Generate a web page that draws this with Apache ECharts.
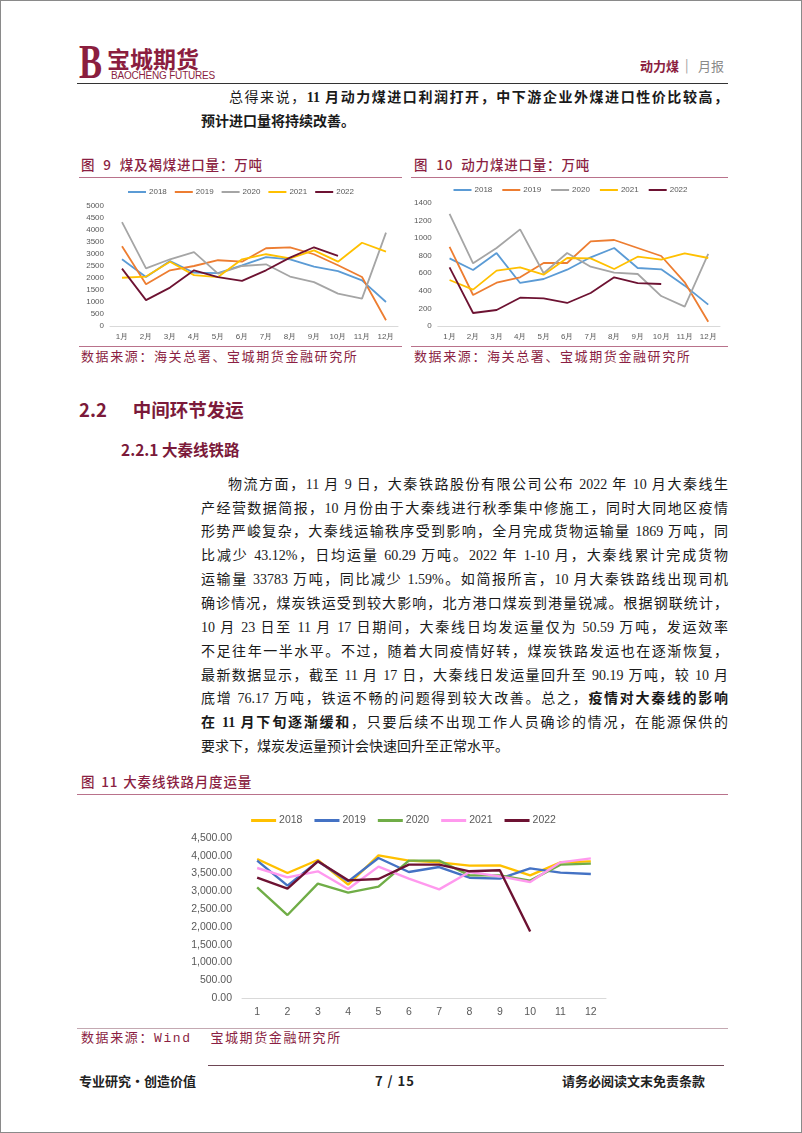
<!DOCTYPE html>
<html><head><meta charset="utf-8">
<script src="https://cdn.jsdelivr.net/npm/echarts@6/dist/echarts.min.js"></script>
<style>
html,body{margin:0;padding:0;background:#fff;}
#page{position:relative;width:802px;height:1133px;box-sizing:border-box;border:1px solid #8a8a8a;overflow:hidden;font-family:"Noto Sans CJK SC",sans-serif;background:#fff;}
.abs{position:absolute;white-space:nowrap;}
.bt{font-family:"Liberation Serif","Noto Sans CJK SC",serif;font-size:14px;color:#1a1a1a;}
.jl{position:absolute;left:200px;width:527px;height:24px;line-height:24px;text-align:justify;text-align-last:justify;}
.nl{position:absolute;left:200px;height:24px;line-height:24px;white-space:nowrap;}
.cap{font-size:13.5px;color:#8b1f43;font-weight:500;letter-spacing:0.8px;}
.sp{display:inline-block;width:8px;}
.src{font-size:13px;color:#8b1f43;letter-spacing:1.6px;font-family:"Liberation Mono","Noto Sans CJK SC",monospace;}
.hr{position:absolute;height:0;}
b{font-weight:700;}
.chart{position:absolute;}
</style>
</head><body>
<div id="page">
  <!-- header logo -->
  <div class="abs" style="left:78px;top:36px;font-family:'Liberation Serif',serif;font-size:48px;line-height:50px;color:#8b1e3f;font-weight:700;transform:scaleX(0.72);transform-origin:left top;">B</div>
  <div class="abs" style="left:106px;top:43px;font-size:23px;line-height:28px;color:#8b1e3f;font-weight:700;">宝城期货</div>
  <div class="abs" style="left:110px;top:69px;font-family:'Liberation Sans Narrow','Liberation Sans',sans-serif;font-size:10px;line-height:11px;color:#8b1e3f;letter-spacing:-0.2px;">BAOCHENG FUTURES</div>
  <div class="abs" style="left:639px;top:56px;font-size:13px;line-height:18px;color:#8b1e3f;font-weight:700;">动力煤</div>
  <div class="abs" style="left:684px;top:55px;font-size:13px;line-height:18px;color:#9a9a9a;">|</div>
  <div class="abs" style="left:697px;top:56px;font-size:13px;line-height:18px;color:#8a8a8a;">月报</div>
  <div class="hr" style="left:76px;top:82px;width:651px;border-top:1.5px solid #333;"></div>

  <!-- intro text -->
  <div class="jl bt" style="top:85px;left:228px;width:499px;">总得来说，<b>11 月动力煤进口利润打开，中下游企业外煤进口性价比较高，</b></div>
  <div class="nl bt" style="top:109px;"><b>预计进口量将持续改善。</b></div>

  <!-- figure captions -->
  <div class="abs cap" style="left:80px;top:154px;line-height:18px;">图<span class="sp"></span>9<span class="sp"></span>煤及褐煤进口量：万吨</div>
  <div class="abs cap" style="left:413px;top:154px;line-height:18px;">图<span class="sp"></span>10<span class="sp"></span>动力煤进口量：万吨</div>
  <div class="hr" style="left:78px;top:176px;width:323px;border-top:1.5px solid #b9728b;"></div>
  <div class="hr" style="left:410px;top:176px;width:317px;border-top:1.5px solid #b9728b;"></div>
  <div id="c9" class="chart" style="left:78px;top:178px;width:324px;height:166px;"></div>
  <div id="c10" class="chart" style="left:410px;top:178px;width:319px;height:166px;"></div>
  <div class="hr" style="left:78px;top:345px;width:323px;border-top:1.5px solid #b9728b;"></div>
  <div class="hr" style="left:410px;top:345px;width:317px;border-top:1.5px solid #b9728b;"></div>
  <div class="abs src" style="left:80px;top:348px;line-height:18px;">数据来源：海关总署、宝城期货金融研究所</div>
  <div class="abs src" style="left:413px;top:348px;line-height:18px;">数据来源：海关总署、宝城期货金融研究所</div>

  <!-- headings -->
  <div class="abs" style="left:78px;top:396px;font-size:18.5px;line-height:24px;color:#7b1a3a;font-weight:700;">2.2<span style="display:inline-block;width:26px;"></span>中间环节发运</div>
  <div class="abs" style="left:120px;top:438px;font-size:15.5px;line-height:20px;color:#7b1a3a;font-weight:700;">2.2.1 大秦线铁路</div>

  <!-- body paragraph -->
  <div class="jl bt" style="top:472px;left:227px;width:500px;">物流方面，11 月 9 日，大秦铁路股份有限公司公布 2022 年 10 月大秦线生</div>
  <div class="jl bt" style="top:496px;">产经营数据简报，10 月份由于大秦线进行秋季集中修施工，同时大同地区疫情</div>
  <div class="jl bt" style="top:519px;">形势严峻复杂，大秦线运输秩序受到影响，全月完成货物运输量 1869 万吨，同</div>
  <div class="jl bt" style="top:543px;">比减少 43.12%，日均运量 60.29 万吨。2022 年 1-10 月，大秦线累计完成货物</div>
  <div class="jl bt" style="top:567px;">运输量 33783 万吨，同比减少 1.59%。如简报所言，10 月大秦铁路线出现司机</div>
  <div class="jl bt" style="top:591px;">确诊情况，煤炭铁运受到较大影响，北方港口煤炭到港量锐减。根据钢联统计，</div>
  <div class="jl bt" style="top:615px;">10 月 23 日至 11 月 17 日期间，大秦线日均发运量仅为 50.59 万吨，发运效率</div>
  <div class="jl bt" style="top:639px;">不足往年一半水平。不过，随着大同疫情好转，煤炭铁路发运也在逐渐恢复，</div>
  <div class="jl bt" style="top:663px;">最新数据显示，截至 11 月 17 日，大秦线日发运量回升至 90.19 万吨，较 10 月</div>
  <div class="jl bt" style="top:686px;">底增 76.17 万吨，铁运不畅的问题得到较大改善。总之，<b>疫情对大秦线的影响</b></div>
  <div class="jl bt" style="top:710px;"><b>在 11 月下旬逐渐缓和</b>，只要后续不出现工作人员确诊的情况，在能源保供的</div>
  <div class="nl bt" style="top:734px;">要求下，煤炭发运量预计会快速回升至正常水平。</div>

  <!-- figure 11 -->
  <div class="abs cap" style="left:80px;top:771px;line-height:18px;">图<span class="sp" style="width:6px"></span>11<span class="sp" style="width:5px"></span>大秦线铁路月度运量</div>
  <div class="hr" style="left:76px;top:793px;width:651px;border-top:1.5px solid #b9728b;"></div>
  <div id="c11" class="chart" style="left:78px;top:797px;width:649px;height:228px;"></div>
  <div class="hr" style="left:76px;top:1027px;width:651px;border-top:1px solid #c4a9b2;"></div>
  <div class="abs src" style="left:80px;top:1029px;line-height:18px;">数据来源：Wind&nbsp;&nbsp;宝城期货金融研究所</div>

  <!-- footer -->
  <div class="hr" style="left:207px;top:1064px;width:516px;border-top:1.5px solid #6e4655;"></div>
  <div class="abs" style="left:78px;top:1071px;font-size:13px;line-height:18px;color:#222;font-weight:700;">专业研究·创造价值</div>
  <div class="abs" style="left:374px;top:1071px;font-size:13px;line-height:18px;color:#222;font-weight:700;letter-spacing:1px;">7 / 15</div>
  <div class="abs" style="left:561px;top:1071px;font-size:13px;line-height:18px;color:#222;font-weight:700;">请务必阅读文末免责条款</div>
</div>

<script>
// ---------- data ----------
var months = ['1月','2月','3月','4月','5月','6月','7月','8月','9月','10月','11月','12月'];
var monthNums = ['1','2','3','4','5','6','7','8','9','10','11','12'];
var years = ['2018','2019','2020','2021','2022'];

// 图9 煤及褐煤进口量（万吨）
var c9_2018 = [2780,2040,2710,2220,2200,2530,2870,2780,2470,2290,1900,1000];
var c9_2019 = [3320,1740,2320,2500,2740,2680,3240,3280,2990,2530,2040,240];
var c9_2020 = [4330,2400,2780,3080,2180,2500,2570,2060,1830,1350,1140,3890];
var c9_2021 = [2010,2060,2680,2120,2040,2780,2990,2820,3150,2680,3470,3100];
var c9_2022 = [2390,1080,1600,2320,2040,1880,2320,2850,3280,2920];

// 图10 动力煤进口量（万吨）
var c10_2018 = [770,637,830,490,535,641,782,888,660,645,459,243];
var c10_2019 = [900,353,493,554,717,717,964,979,888,797,497,49];
var c10_2020 = [1275,713,888,1100,600,831,675,607,592,341,220,820];
var c10_2021 = [524,414,630,668,584,774,770,649,789,755,827,774];
var c10_2022 = [668,148,182,322,315,262,376,554,489,478];

// 图11 大秦线铁路月度运量（万吨）
var c11_2018 = [3909,3516,3881,3188,4013,3863,3816,3722,3731,3450,3816,3844];
var c11_2019 = [3863,3160,3844,3281,3938,3544,3684,3384,3356,3647,3525,3488];
var c11_2020 = [3113,2334,3216,2963,3131,3863,3863,3450,3450,3300,3750,3778];
var c11_2021 = [3656,3394,3563,3066,3694,3356,3056,3544,3422,3263,3816,3928];
var c11_2022 = [3384,3075,3844,3309,3347,3750,3750,3563,3591,1869];

var colorsA = ['#5b9bd5','#ed7d31','#a5a5a5','#ffc000','#6d1232'];
var colorsB = ['#ffc000','#4472c4','#70ad47','#ff99ee','#6d1232'];

function build(id, cats, data, colors, cfg) {
  var chart = echarts.init(document.getElementById(id), null, {renderer:'canvas'});
  var series = data.map(function(d, i){
    return {name: years[i], type:'line', data:d, symbol:'none', smooth:false,
      lineStyle:{width:cfg.lw, color:colors[i]}, itemStyle:{color:colors[i]}, z: 2+i};
  });
  chart.setOption({
    animation:false,
    color: colors,
    legend:{data:years, top:cfg.legTop, left:'center', icon:'rect', itemWidth:cfg.iw, itemHeight:cfg.ih,
      itemGap:cfg.gap, textStyle:{fontSize:cfg.lfs, color:'#595959', padding:[0,0,0,-2]}},
    grid:{left:cfg.gl, right:cfg.gr, top:cfg.gt, bottom:cfg.gb, containLabel:false},
    xAxis:{type:'category', data:cats, boundaryGap:true,
      axisLine:{lineStyle:{color:'#d9d9d9', width:1}}, axisTick:{show:false},
      axisLabel:{fontSize:cfg.fs, color:'#595959', margin:cfg.xm}},
    yAxis:{type:'value', min:0, max:cfg.max, interval:cfg.interval,
      axisLine:{show:false}, axisTick:{show:false}, splitLine:{show:false},
      axisLabel:{fontSize:cfg.fs, color:'#595959', margin:cfg.ym, formatter:cfg.fmt}},
    series: series
  });
}

build('c9', months, [c9_2018,c9_2019,c9_2020,c9_2021,c9_2022], colorsA,
  {lw:1.8, legTop:4, iw:18, ih:2, gap:8, lfs:8, gl:31, gr:5, gt:27, gb:19, fs:8, xm:7, ym:6,
   max:5000, interval:500, fmt:function(v){return String(v);}});
build('c10', months, [c10_2018,c10_2019,c10_2020,c10_2021,c10_2022], colorsA,
  {lw:1.8, legTop:2, iw:18, ih:2, gap:10, lfs:8, gl:25, gr:10, gt:24, gb:19, fs:8, xm:7, ym:6,
   max:1400, interval:200, fmt:function(v){return String(v);}});
build('c11', monthNums, [c11_2018,c11_2019,c11_2020,c11_2021,c11_2022], colorsB,
  {lw:2.4, legTop:12, iw:25, ih:3, gap:12, lfs:10.5, gl:163, gr:122, gt:40, gb:28, fs:10.5, xm:9, ym:10,
   max:4500, interval:500, fmt:function(v){return v.toLocaleString('en-US',{minimumFractionDigits:2, maximumFractionDigits:2});}});
</script>
</body></html>
